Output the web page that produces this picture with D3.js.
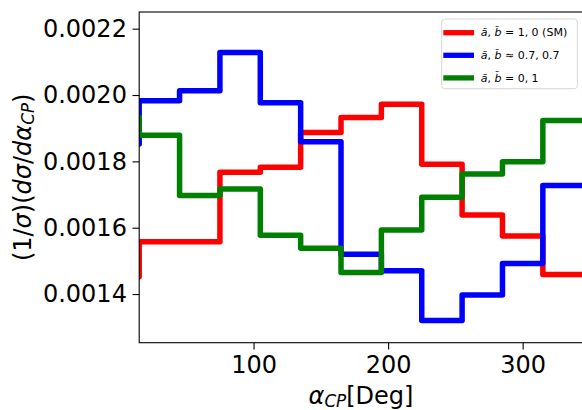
<!DOCTYPE html>
<html>
<head>
<meta charset="utf-8">
<script src="https://cdn.jsdelivr.net/npm/d3@7"></script>
<style>
  html, body { margin: 0; padding: 0; background: #fff; }
  svg { display: block; font-family: "DejaVu Sans", sans-serif; }
</style>
</head>
<body>
<svg id="chart" width="582" height="410"></svg>
<script>
// bin edges in degrees; the first bin sits left of the visible range
const edges = [-15, 15, 45, 75, 105, 135, 165, 195, 225, 255, 285, 315, 345];
const redVals   = [0.001452, 0.001558, 0.001558, 0.001767, 0.001782, 0.001887, 0.001932, 0.001972, 0.001791, 0.001638, 0.001575, 0.001459];
const blueVals  = [0.001852, 0.001983, 0.002013, 0.002128, 0.001977, 0.001859, 0.001520, 0.001470, 0.001320, 0.001397, 0.001492, 0.001727];
const greenVals = [0.001933, 0.001879, 0.001697, 0.001717, 0.001577, 0.001538, 0.001465, 0.001593, 0.001692, 0.001762, 0.001799, 0.001923];
const xTicks = [100, 200, 300];
const yTicks = [0.0014, 0.0016, 0.0018, 0.0020, 0.0022];

const series = [
  { color: '#ff0000', vals: redVals,   label: [['ã', 'i'], [', ', 'n'], ['b̃', 'i'], [' = 1, 0', 'n'], [' (SM)', 'n']] },
  { color: '#0000ff', vals: blueVals,  label: [['ã', 'i'], [', ', 'n'], ['b̃', 'i'], [' ≈ 0.7, 0.7', 'n']] },
  { color: '#008000', vals: greenVals, label: [['ã', 'i'], [', ', 'n'], ['b̃', 'i'], [' = 0, 1', 'n']] },
];

const svg = d3.select('#chart');
const m = { left: 139.2, top: 12, right: 583.2, bottom: 342.7 };

const x = d3.scaleLinear().domain([15, 345]).range([m.left, m.right]);
const y = d3.scaleLinear().domain([0.0012533, 0.0022503]).range([m.bottom, m.top]);

svg.append('clipPath').attr('id', 'plotclip')
  .append('rect')
  .attr('x', m.left).attr('y', m.top)
  .attr('width', m.right - m.left).attr('height', m.bottom - m.top);

// step traces
const plot = svg.append('g').attr('clip-path', 'url(#plotclip)');
for (const s of series) {
  const pts = s.vals.map((v, i) => [edges[i], v]);
  pts.push([edges[edges.length - 1], s.vals[s.vals.length - 1]]);
  const line = d3.line()
    .x((d) => x(d[0]))
    .y((d) => y(d[1]))
    .curve(d3.curveStepAfter);
  plot.append('path')
    .datum(pts)
    .attr('d', line)
    .attr('fill', 'none')
    .attr('stroke', s.color)
    .attr('stroke-width', 5.5)
    .attr('stroke-linejoin', 'round');
}

// axes
const xAxis = svg.append('g')
  .attr('transform', `translate(0,${m.bottom})`)
  .call(d3.axisBottom(x).tickValues(xTicks).tickSize(6.7).tickPadding(7).tickSizeOuter(0));
const yAxis = svg.append('g')
  .attr('transform', `translate(${m.left},0)`)
  .call(d3.axisLeft(y).tickValues(yTicks).tickFormat(d3.format('.4f')).tickSize(6.7).tickPadding(5.6).tickSizeOuter(0));

for (const ax of [xAxis, yAxis]) {
  ax.select('.domain').remove();
  ax.selectAll('.tick line').attr('stroke', '#000').attr('stroke-width', 1.1);
  ax.selectAll('.tick text')
    .attr('fill', '#000')
    .attr('font-size', 24)
    .attr('font-family', '"DejaVu Sans", sans-serif');
}

// spines (right one falls just outside the window)
svg.append('rect')
  .attr('x', m.left).attr('y', m.top)
  .attr('width', m.right - m.left).attr('height', m.bottom - m.top)
  .attr('fill', 'none').attr('stroke', '#000').attr('stroke-width', 1.1);

function addParts(textSel, parts) {
  for (const [t, style, dy] of parts) {
    const ts = textSel.append('tspan').text(t);
    if (style === 'i') ts.attr('font-style', 'italic');
    if (style === 's') ts.attr('font-style', 'italic').attr('font-size', '0.7em');
    if (dy) ts.attr('dy', dy);
  }
}

// x label
const xl = svg.append('text')
  .attr('x', 361).attr('y', 404)
  .attr('text-anchor', 'middle')
  .attr('font-size', 24);
addParts(xl, [['α', 'i'], ['CP', 's', '0.2em'], ['[Deg]', 'n', '-0.14em']]);

// y label
const yl = svg.append('text')
  .attr('transform', `translate(31,${(m.top + m.bottom) / 2}) rotate(-90)`)
  .attr('text-anchor', 'middle')
  .attr('font-size', 24);
addParts(yl, [['(1/', 'n'], ['σ', 'i'], [')(', 'n'], ['dσ', 'i'], ['/', 'n'], ['dα', 'i'], ['CP', 's', '0.2em'], [')', 'n', '-0.14em']]);

// legend
const lg = svg.append('g');
lg.append('rect')
  .attr('x', 441.7).attr('y', 19)
  .attr('width', 135.6).attr('height', 69.7)
  .attr('rx', 3).attr('ry', 3)
  .attr('fill', 'rgba(255,255,255,0.8)')
  .attr('stroke', '#d6d6d6').attr('stroke-width', 1);
series.forEach((s, i) => {
  const cy = 32.7 + i * 22.6;
  lg.append('line')
    .attr('x1', 443.3).attr('x2', 474)
    .attr('y1', cy).attr('y2', cy)
    .attr('stroke', s.color).attr('stroke-width', 5.3);
  const t = lg.append('text')
    .attr('x', 480.7).attr('y', cy + 3.6)
    .attr('font-size', 11)
    .attr('fill', '#000');
  addParts(t, s.label);
});
</script>
</body>
</html>
